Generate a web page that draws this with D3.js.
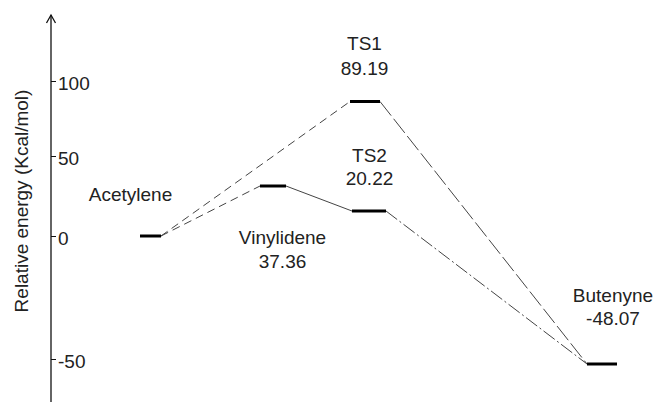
<!DOCTYPE html>
<html>
<head>
<meta charset="utf-8">
<script src="https://cdn.jsdelivr.net/npm/d3@7/dist/d3.min.js"></script>
<style>
  html, body { margin: 0; padding: 0; background: #fff; }
  svg { display: block; }
  text { font-family: "Liberation Sans", Arial, Helvetica, sans-serif; fill: #222; }
</style>
</head>
<body>
<svg id="chart" width="660" height="402"></svg>
<script>
// ---------------- data ----------------
const states   = ["Acetylene", "Vinylidene", "TS1", "TS2", "Butenyne"];
const energies = [0, 37.36, 89.19, 20.22, -48.07];          // kcal/mol
const showValue = [false, true, true, true, true];
const steps    = [0, 1, 2, 2, 3];                           // reaction coordinate step
const tickValues = [-50, 0, 50, 100];
const tickLabels = ["-50", "0", "50", "100"];
const links = [
  ["Acetylene", "Vinylidene", "dash"],
  ["Acetylene", "TS1", "dash"],
  ["Vinylidene", "TS2", "solid"],
  ["TS2", "Butenyne", "dashdot"],
  ["TS1", "Butenyne", "longdash"]
];
const yTitle = "Relative energy (Kcal/mol)";

// ---------------- layout ----------------
const W = 660, H = 402;
const axisX = 51;
const fontSize = 19;
// schematic (not-to-scale) vertical placement, as in the original diagram
const yDomain = Array.from(new Set(tickValues.concat(energies))).sort((a, b) => a - b);
const yRange  = [359, 364, 236, 211, 186, 156, 101.5, 81];   // pixel stops for yDomain
const xStepRange = [150.5, 273, 367, 602];
const levelHalf = [10.5, 13, 15, 17, 15];
const levelShift = [0, 0, -2, 2, 0];
const labelDx = [-20, 9.5, -0.5, 0.5, 11];
const labelDy = [[-35], [58, 82], [-51.5, -26.5], [-49, -26], [-62, -39]];
const dashStyles = { dash: "8,5", solid: null, dashdot: "14,3,2,3", longdash: "18,4" };

const y = d3.scaleLinear().domain(yDomain).range(yRange);
const x = d3.scaleLinear().domain([0, 1, 2, 3]).range(xStepRange);

const svg = d3.select("#chart");

const levels = states.map((s, i) => {
  const cx = x(steps[i]) + levelShift[i];
  return { name: s, e: energies[i], x1: cx - levelHalf[i], x2: cx + levelHalf[i], cx, cy: y(energies[i]), i };
});
const byName = Object.fromEntries(levels.map(d => [d.name, d]));

// ---------------- axis ----------------
const axis = d3.axisRight(y).tickValues(tickValues).tickSize(5).tickPadding(2)
  .tickFormat((d, i) => tickLabels[tickValues.indexOf(d)]);
const gAxis = svg.append("g").attr("transform", `translate(${axisX},0)`).call(axis);
gAxis.select(".domain").remove();
gAxis.selectAll(".tick line").attr("stroke", "#111").attr("stroke-width", 1);
gAxis.selectAll(".tick text")
  .attr("font-family", "'Liberation Sans', Arial, sans-serif")
  .attr("font-size", fontSize).attr("fill", "#222")
  .attr("dy", "0.45em");

// axis line with open arrow
svg.append("line").attr("x1", axisX).attr("x2", axisX).attr("y1", 15).attr("y2", H)
  .attr("stroke", "#111").attr("stroke-width", 1.3);
svg.append("path").attr("d", `M${axisX - 4.5},23 L${axisX},15 L${axisX + 4.5},23`)
  .attr("fill", "none").attr("stroke", "#111").attr("stroke-width", 1.3);

// axis title
svg.append("text")
  .attr("transform", `translate(28,201) rotate(-90)`)
  .attr("text-anchor", "middle")
  .attr("font-size", fontSize)
  .text(yTitle);

// ---------------- connectors ----------------
svg.append("g").selectAll("line").data(links).join("line")
  .attr("x1", d => byName[d[0]].x2).attr("y1", d => byName[d[0]].cy)
  .attr("x2", d => byName[d[1]].x1).attr("y2", d => byName[d[1]].cy)
  .attr("stroke", "#444").attr("stroke-width", 1)
  .attr("stroke-dasharray", d => dashStyles[d[2]]);

// ---------------- levels ----------------
svg.append("g").selectAll("line").data(levels).join("line")
  .attr("x1", d => d.x1).attr("x2", d => d.x2)
  .attr("y1", d => d.cy).attr("y2", d => d.cy)
  .attr("stroke", "#000").attr("stroke-width", 3);

// ---------------- labels ----------------
const gLab = svg.append("g").attr("font-size", fontSize).attr("text-anchor", "middle");
levels.forEach(d => {
  const lines = showValue[d.i] ? [d.name, d.e.toFixed(2)] : [d.name];
  lines.forEach((t, k) => {
    gLab.append("text")
      .attr("x", d.cx + labelDx[d.i])
      .attr("y", d.cy + labelDy[d.i][k])
      .text(t);
  });
});
</script>
</body>
</html>
